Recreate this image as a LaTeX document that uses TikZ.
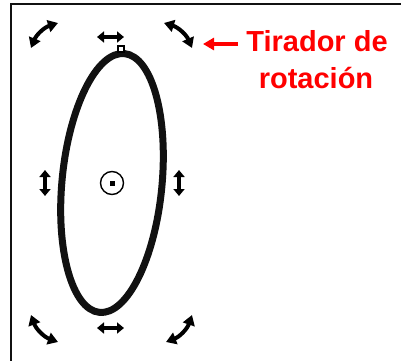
\documentclass[tikz,border=0pt]{standalone}
\usepackage{fontspec}
\setmainfont{Liberation Sans}
\usetikzlibrary{arrows.meta}
\definecolor{labelred}{RGB}{255,0,0}
\definecolor{inkblack}{RGB}{17,17,17}
\tikzset{
  frameline/.style={line width=2pt, inkblack},
  shapeline/.style={line width=7pt, inkblack},
  handle/.style={line width=4.2pt, black,
    {Triangle[length=7pt,width=11pt]}-{Triangle[length=7pt,width=11pt]}},
  rothandle/.style={line width=4pt, black,
    {Triangle[length=10pt,width=12pt]}-{Triangle[length=10pt,width=12pt]}},
  labeltext/.style={text=labelred, font=\bfseries\fontsize{29}{34}\selectfont, inner sep=0pt, anchor=base},
  redarrow/.style={line width=3.8pt, labelred, -{Triangle[length=11pt,width=12pt]}}
}
\begin{document}
\begin{tikzpicture}[x=1pt,y=-1pt]
\useasboundingbox (0,0) rectangle (401,361);
% window frame (top and left edges)
\coordinate (fTL) at (11,4);
\coordinate (fTR) at (401,4);
\coordinate (fBL) at (11,361);
\draw[frameline] (fTR) -- (fTL) -- (fBL);
% ellipse
\coordinate (c) at (112,183);
\draw[shapeline, rotate around={-5.5:(c)}] (c) ellipse [x radius=50, y radius=130];
% rotation centre marker
\node[draw=black, line width=1.4pt, circle, minimum size=23pt, inner sep=0pt] (centre) at (c) {};
\node[fill=black, minimum size=5pt, inner sep=0pt] (dot) at (c) {};
% small node square at top
\node[draw=black, fill=white, line width=1.2pt, minimum size=6pt, inner sep=0pt] (topsq) at (121,49) {};
% scale handles
\coordinate (tA) at (97,37);  \coordinate (tB) at (124,37);
\coordinate (bA) at (97,328); \coordinate (bB) at (124,328);
\coordinate (lA) at (45,170); \coordinate (lB) at (45,196);
\coordinate (rA) at (179,170); \coordinate (rB) at (179,196);
\draw[handle] (tA) -- (tB);
\draw[handle] (bA) -- (bB);
\draw[handle] (lA) -- (lB);
\draw[handle] (rA) -- (rB);
% rotation handles
\coordinate (tl1) at (31,48); \coordinate (tl2) at (58,23);
\coordinate (tr1) at (164,23); \coordinate (tr2) at (192,48);
\coordinate (br1) at (192,315); \coordinate (br2) at (166,342);
\coordinate (bl1) at (58,342); \coordinate (bl2) at (31,315);
\draw[rothandle] (tl1) to[bend left=25] (tl2);
\draw[rothandle] (tr1) to[bend left=25] (tr2);
\draw[rothandle] (br1) to[bend left=25] (br2);
\draw[rothandle] (bl1) to[bend left=25] (bl2);
% label
\node[labeltext] (lab1) at (317,52) {Tirador de};
\node[labeltext] (lab2) at (316,88) {rotación};
\coordinate (arrtail) at (238,44);
\coordinate (arrtip) at (203,44);
\draw[redarrow] (arrtail) -- (arrtip);
\end{tikzpicture}
\end{document}
